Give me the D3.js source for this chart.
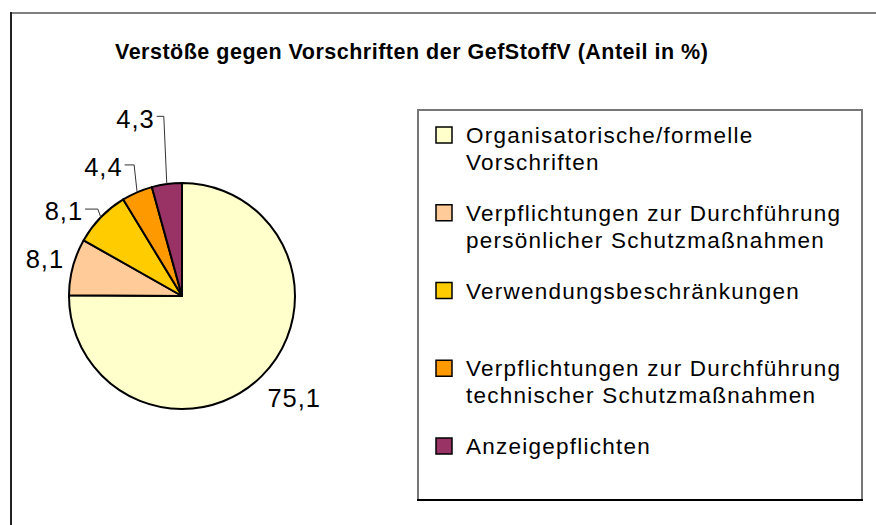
<!DOCTYPE html>
<html>
<head>
<meta charset="utf-8">
<script src="https://cdn.jsdelivr.net/npm/d3@7"></script>
<style>
  html, body { margin: 0; padding: 0; background: #fff; }
  svg { display: block; font-family: "Liberation Sans", Arial, sans-serif; }
</style>
</head>
<body>
<svg id="chart" width="876" height="525"></svg>
<script>
// ---- data ----
const title = "Verstöße gegen Vorschriften der GefStoffV (Anteil in %)";
const categories = [
  ["Organisatorische/formelle", "Vorschriften"],
  ["Verpflichtungen zur Durchführung", "persönlicher Schutzmaßnahmen"],
  ["Verwendungsbeschränkungen"],
  ["Verpflichtungen zur Durchführung", "technischer Schutzmaßnahmen"],
  ["Anzeigepflichten"]
];
const values = [75.1, 8.1, 8.1, 4.4, 4.3];
const valueLabels = ["75,1", "8,1", "8,1", "4,4", "4,3"];
const colors = ["#FFFFCC", "#FFCC99", "#FFCC00", "#FF9900", "#993366"];

// ---- layout ----
const W = 876, H = 525;
const cx = 182, cy = 296, R = 113;
const labelR = 145;
// label nudges (px) from default polar position, and whether a leader line is drawn
const labelNudge = [[10, -1], [3, 0], [-14, 16], [-21, 4], [-27, -34]];
const hasLeader = [false, false, true, true, true];

const svg = d3.select("#chart");

// outer frame (only top and left edges visible)
svg.append("line").attr("x1", 11).attr("y1", 13).attr("x2", W).attr("y2", 13)
  .attr("stroke", "#808080").attr("stroke-width", 2);
svg.append("line").attr("x1", 11).attr("y1", 12).attr("x2", 11).attr("y2", H)
  .attr("stroke", "#222").attr("stroke-width", 2);

// title
svg.append("text")
  .attr("x", 115).attr("y", 59)
  .attr("font-size", 21.5).attr("font-weight", "bold")
  .attr("letter-spacing", 0.5)
  .attr("fill", "#000")
  .text(title);

// pie
const pie = d3.pie().sort(null).value(d => d)
  .startAngle(0).endAngle(2 * Math.PI);
const arcs = pie(values);
const arc = d3.arc().innerRadius(0).outerRadius(R);

const g = svg.append("g").attr("transform", `translate(${cx},${cy})`);
g.selectAll("path.slice")
  .data(arcs)
  .join("path")
  .attr("class", "slice")
  .attr("d", arc)
  .attr("fill", (d, i) => colors[i])
  .attr("stroke", "#000")
  .attr("stroke-width", 2)
  .attr("stroke-linejoin", "round");

// labels
const fs = 25.5;
arcs.forEach((d, i) => {
  const a = (d.startAngle + d.endAngle) / 2;
  const lx = labelR * Math.sin(a) + labelNudge[i][0];
  const ly = -labelR * Math.cos(a) + labelNudge[i][1];
  const t = g.append("text")
    .attr("x", lx).attr("y", ly + fs * 0.36)
    .attr("text-anchor", "middle")
    .attr("font-size", fs)
    .attr("letter-spacing", 1)
    .attr("fill", "#000")
    .text(valueLabels[i]);
  if (hasLeader[i]) {
    const bb = t.node().getBBox();
    const ax = R * Math.sin(a), ay = -R * Math.cos(a);
    const sx = bb.x + bb.width + 2;
    g.append("path")
      .attr("d", `M${sx},${ly - 2}H${ax - 3}L${ax},${ay}`)
      .attr("fill", "none")
      .attr("stroke", "#333")
      .attr("stroke-width", 1);
  }
});

// legend
const lg = svg.append("g");
const lx0 = 418, ly0 = 110, lx1 = 862, ly1 = 500;
lg.append("path").attr("d", `M${lx0},${ly1}V${ly0}H${lx1}V${ly1}`)
  .attr("fill", "#fff").attr("stroke", "#777").attr("stroke-width", 2);
lg.append("line").attr("x1", lx0 - 1).attr("x2", lx1 + 1).attr("y1", ly1).attr("y2", ly1)
  .attr("stroke", "#000").attr("stroke-width", 2);

const ly = d3.scalePoint().domain(d3.range(categories.length)).range([127, 438]);
const items = lg.selectAll("g.item").data(categories).join("g")
  .attr("class", "item")
  .attr("transform", (d, i) => `translate(436,${ly(i)})`);
items.append("rect")
  .attr("width", 16).attr("height", 16)
  .attr("fill", (d, i) => colors[i])
  .attr("stroke", "#000").attr("stroke-width", 1.5);
items.each(function (lines) {
  const t = d3.select(this).append("text")
    .attr("x", 30).attr("y", 16)
    .attr("font-size", 22.5)
    .attr("letter-spacing", 1.25)
    .attr("fill", "#000");
  lines.forEach((ln, j) => {
    t.append("tspan").attr("x", 30).attr("dy", j === 0 ? 0 : 27).text(ln);
  });
});
</script>
</body>
</html>
